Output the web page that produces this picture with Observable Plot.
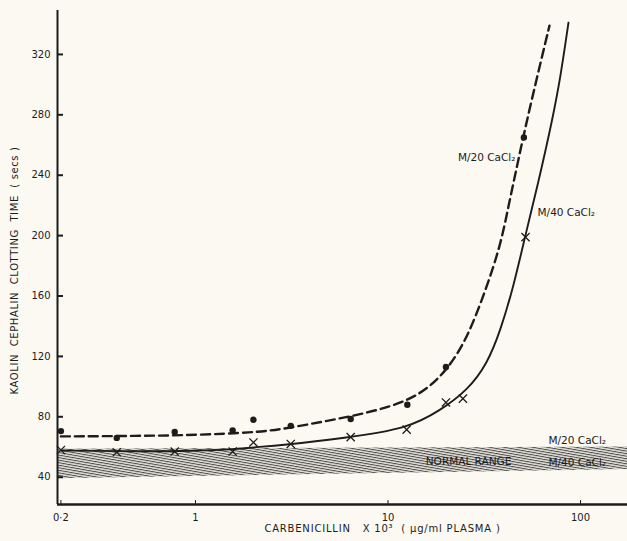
<!DOCTYPE html>
<html>
<head>
<meta charset="utf-8">
<script src="https://cdn.jsdelivr.net/npm/d3@7"></script>
<script src="https://cdn.jsdelivr.net/npm/@observablehq/plot@0.6"></script>
<style>
  html, body { margin: 0; padding: 0; background: #fbf9f1; }
  #chart { width: 627px; height: 541px; }
</style>
</head>
<body>
<div id="chart"></div>
<script>
// ---- data ----
const xDomain = [0.192, 175.4];
const yDomain = [21.9, 349.1];
const xTicks = [0.2, 1, 10, 100];
const xTickLabels = ["0·2", "1", "10", "100"];
const yTicks = [40, 80, 120, 160, 200, 240, 280, 320];

// measured points, M/20 CaCl2 (dots)
const m20X = [0.2, 0.39, 0.78, 1.56, 2, 3.125, 6.4, 12.6, 20, 50.8];
const m20Y = [70.5, 66, 70, 71, 78, 74, 78.5, 88, 113, 265];
// measured points, M/40 CaCl2 (crosses)
const m40X = [0.2, 0.39, 0.78, 1.56, 2, 3.125, 6.4, 12.5, 20, 24.5, 51.8];
const m40Y = [58, 56.5, 57, 57, 63, 62, 66.5, 71.5, 89.5, 92, 199];

// fitted curve M/20 (dashed)
const c20X = [0.2, 0.5, 1, 2, 2.76, 4.46, 9.15, 14.75, 20.3, 25.9, 32.1, 38.4, 42.3, 46.5, 50.6, 55.7, 62.0, 69.0];
const c20Y = [67, 67.3, 67.9, 69.6, 71.6, 76.4, 84.2, 94.1, 110.7, 132.5, 163.6, 193.4, 219.9, 244.4, 266.3, 289.5, 314.6, 339.1];
// fitted curve M/40 (solid)
const c40X = [0.2, 0.5, 1, 1.52, 2, 2.76, 6.14, 12.6, 18.7, 25.8, 32.8, 38.4, 44.9, 52.9, 59.6, 71.3, 78.7, 86.6];
const c40Y = [57.7, 57.0, 57.5, 58.3, 59.8, 61.0, 66.1, 72.1, 84.2, 97.4, 115.1, 137.2, 166.3, 205.6, 232.1, 276.2, 304.9, 341.1];

// normal range band
const bandX = [0.192, 175.4];
const bandLo = [39, 45];
const bandHi = [58.5, 60];

// labels
const labelText = ["M/20 CaCl₂", "M/40 CaCl₂", "NORMAL RANGE", "M/20 CaCl₂", "M/40 CaCl₂"];
const labelX = [45.9, 59.8, 26.2, 68.2, 68.2];
const labelY = [251.6, 215.3, 50.4, 64.3, 49.7];
const labelAnchor = ["end", "start", "middle", "start", "start"];

const yTitle = "KAOLIN  CEPHALIN  CLOTTING  TIME  ( secs )";
const xTitle = "CARBENICILLIN   X 10³  ( µg/ml PLASMA )";

// ---- build tables ----
const ink = "#1c1c1c";
const band = bandX.map((x, i) => ({x, lo: bandLo[i], hi: bandHi[i]}));
const m20 = m20X.map((x, i) => ({x, y: m20Y[i]}));
const m40 = m40X.map((x, i) => ({x, y: m40Y[i]}));
const c20 = c20X.map((x, i) => ({x, y: c20Y[i]}));
const c40 = c40X.map((x, i) => ({x, y: c40Y[i]}));
const labels = labelText.map((t, i) => ({t, x: labelX[i], y: labelY[i], a: labelAnchor[i]}));

const chart = Plot.plot({
  width: 627,
  height: 541,
  marginLeft: 57,
  marginRight: 0,
  marginTop: 10,
  marginBottom: 37,
  style: {background: "#fbf9f1", fontFamily: "DejaVu Sans, sans-serif", fontSize: "10px", color: ink},
  x: {type: "log", domain: xDomain},
  y: {domain: yDomain},
  marks: [
    Plot.areaY(band, {x: "x", y1: "lo", y2: "hi", fill: "url(#hatch)"}),
    Plot.line(c20, {x: "x", y: "y", stroke: ink, strokeWidth: 2.4, strokeDasharray: "9,5", curve: "basis"}),
    Plot.line(c40, {x: "x", y: "y", stroke: ink, strokeWidth: 1.9, curve: "basis"}),
    Plot.dot(m20, {x: "x", y: "y", r: 3.2, fill: ink, stroke: null}),
    Plot.dot(m40, {x: "x", y: "y", r: 3.8, symbol: "times", stroke: ink, strokeWidth: 1.3}),
    ...["start", "middle", "end"].map(a =>
      Plot.text(labels.filter(d => d.a === a), {x: "x", y: "y", text: "t", fontSize: 10.5, fill: ink, textAnchor: a, letterSpacing: "1px"})
    ),
    Plot.ruleX([xDomain[0]], {stroke: ink, strokeWidth: 2}),
    Plot.ruleY([yDomain[0]], {stroke: ink, strokeWidth: 2.4}),
    Plot.axisX({ticks: xTicks, tickFormat: (d) => xTickLabels[xTicks.indexOf(d)], tickSize: -4, tickPadding: 13, label: null, fontSize: 10}),
    Plot.axisY({ticks: yTicks, tickSize: -6, tickPadding: 13, label: null, fontSize: 10, strokeWidth: 2}),
    Plot.text([yTitle], {frameAnchor: "left", textAnchor: "middle", rotate: -90, dx: -43, dy: 13, fontSize: 10, fill: ink}),
    Plot.text([xTitle], {frameAnchor: "bottom", textAnchor: "middle", dx: 40, dy: 27, fontSize: 10, fill: ink})
  ]
});

// hatch pattern for the normal range
const ns = "http://www.w3.org/2000/svg";
const defs = document.createElementNS(ns, "defs");
const pat = document.createElementNS(ns, "pattern");
pat.setAttribute("id", "hatch");
pat.setAttribute("patternUnits", "userSpaceOnUse");
pat.setAttribute("width", "10");
pat.setAttribute("height", "2.5");
pat.setAttribute("patternTransform", "rotate(10)");
const bg = document.createElementNS(ns, "rect");
bg.setAttribute("width", "10"); bg.setAttribute("height", "2.5"); bg.setAttribute("fill", "#e4e2da");
const ln = document.createElementNS(ns, "rect");
ln.setAttribute("width", "10"); ln.setAttribute("height", "1"); ln.setAttribute("fill", "#4a4a48");
pat.appendChild(bg); pat.appendChild(ln);
defs.appendChild(pat);
chart.insertBefore(defs, chart.firstChild);

// letter spacing on titles
chart.querySelectorAll("text").forEach(t => {
  if (t.textContent === yTitle) t.setAttribute("letter-spacing", "0.6");
  if (t.textContent === xTitle) t.setAttribute("letter-spacing", "0.8");
});

document.getElementById("chart").appendChild(chart);
</script>
</body>
</html>
